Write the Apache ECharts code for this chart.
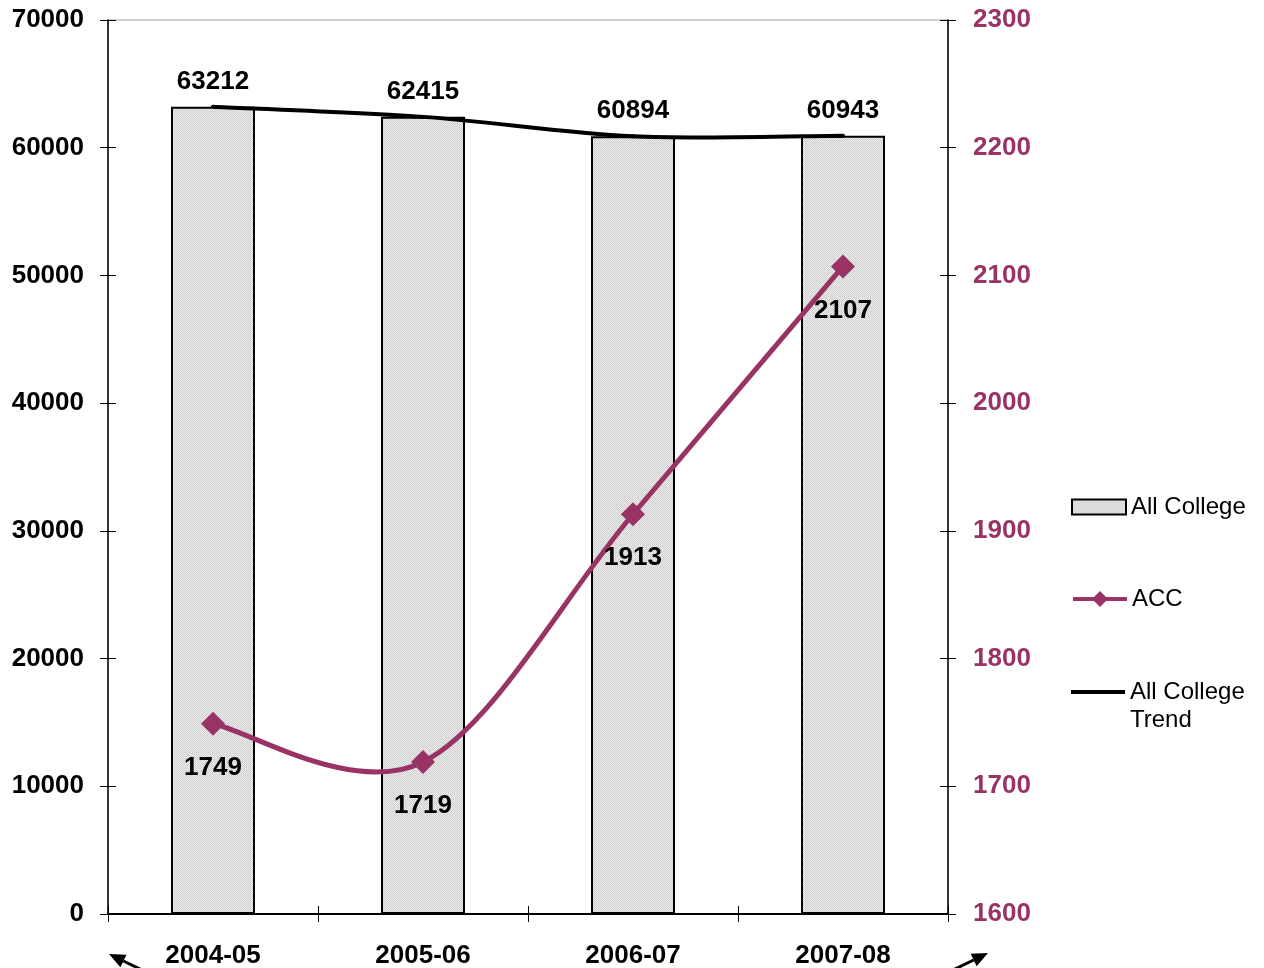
<!DOCTYPE html>
<html>
<head>
<meta charset="utf-8">
<script src="https://cdn.jsdelivr.net/npm/echarts@6/dist/echarts.min.js"></script>
<style>
  html, body { margin: 0; padding: 0; background: #fff; }
  #chart { width: 1264px; height: 968px; }
</style>
</head>
<body>
<div id="chart"></div>
<script>
// Enrolment by academic year: all colleges (left axis) vs ACC (right axis)
const years = ['2004-05', '2005-06', '2006-07', '2007-08'];
const allCollege = [63212, 62415, 60894, 60943];
const acc = [1749, 1719, 1913, 2107];
const leftTicks = { min: 0, max: 70000, interval: 10000 };
const rightTicks = { min: 1600, max: 2300, interval: 100 };

const FONT = '"Liberation Sans", Arial, sans-serif';
const PLUM = '#993366';

// Fine dotted grey fill for the bars
function dotPattern() {
  const c = document.createElement('canvas');
  c.width = 2; c.height = 2;
  const g = c.getContext('2d');
  g.fillStyle = '#ececec'; g.fillRect(0, 0, 2, 2);
  g.fillStyle = '#cfcfcf'; g.fillRect(0, 0, 1, 1); g.fillRect(1, 1, 1, 1);
  return { image: c, repeat: 'repeat' };
}
const barFill = dotPattern();

// Small arrow shape (tip and tail in pixels)
function arrow(tip, tail) {
  const dx = tail[0] - tip[0], dy = tail[1] - tip[1];
  const len = Math.hypot(dx, dy), ux = dx / len, uy = dy / len;
  const hl = 16, hw = 7;
  const bx = tip[0] + ux * hl, by = tip[1] + uy * hl;
  return [
    { type: 'line', shape: { x1: bx, y1: by, x2: tail[0], y2: tail[1] },
      style: { stroke: '#000', lineWidth: 3 } },
    { type: 'polygon', shape: { points: [tip, [bx - uy * hw, by + ux * hw], [bx + uy * hw, by - ux * hw]] },
      style: { fill: '#000' } }
  ];
}

// Smooth curve through the series points (Catmull-Rom style Bezier segments),
// positioned through the chart's own axes via api.coord.
function smoothCurve(values, color, width) {
  return function (params, api) {
    if (params.dataIndex !== 0) return null;
    const pts = values.map((v, i) => api.coord([i, v]));
    const n = pts.length;
    const children = [];
    for (let i = 0; i < n - 1; i++) {
      const p0 = pts[Math.max(i - 1, 0)], p1 = pts[i], p2 = pts[i + 1], p3 = pts[Math.min(i + 2, n - 1)];
      children.push({
        type: 'bezierCurve',
        shape: {
          x1: p1[0], y1: p1[1],
          cpx1: p1[0] + (p2[0] - p0[0]) / 6, cpy1: p1[1] + (p2[1] - p0[1]) / 6,
          cpx2: p2[0] - (p3[0] - p1[0]) / 6, cpy2: p2[1] - (p3[1] - p1[1]) / 6,
          x2: p2[0], y2: p2[1]
        },
        style: { stroke: color, lineWidth: width, fill: null, lineCap: 'round' }
      });
    }
    return { type: 'group', children: children };
  };
}

const chart = echarts.init(document.getElementById('chart'), null, { renderer: 'canvas' });

const tickLabel = { fontFamily: FONT, fontWeight: 'bold', fontSize: 26, formatter: v => String(v) };
const legendText = { fontFamily: FONT, fontSize: 24, color: '#000', lineHeight: 28 };

chart.setOption({
  backgroundColor: '#fff',
  animation: false,
  textStyle: { fontFamily: FONT },
  grid: {
    left: 108, right: 316, top: 20, bottom: 54,
    outerBoundsMode: 'none', containLabel: false,
    show: true, borderColor: '#a0a0a0', borderWidth: 1, backgroundColor: 'transparent'
  },
  legend: [
    {
      data: [{ name: 'All College', icon: 'rect' }], left: 1071, top: 493, padding: 0,
      itemWidth: 54, itemHeight: 15, textStyle: legendText
    },
    {
      data: ['ACC'], left: 1071, top: 585, padding: 0,
      itemWidth: 54, itemHeight: 20, textStyle: legendText,
      lineStyle: { opacity: 1, width: 4, color: PLUM }
    },
    {
      data: [{ name: 'All College Trend', icon: 'rect', itemStyle: { color: '#000' } }],
      left: 1071, top: 650, padding: 0,
      itemWidth: 54, itemHeight: 4,
      formatter: () => '\u00a0\nAll College\nTrend',
      textStyle: legendText
    }
  ],
  xAxis: [
    {
      type: 'category', data: years, position: 'bottom',
      axisLine: { lineStyle: { color: '#000', width: 2 } },
      axisTick: { show: true, length: 8, lineStyle: { color: '#000', width: 1 } },
      axisLabel: { color: '#000', margin: 29, fontFamily: FONT, fontWeight: 'bold', fontSize: 26 }
    },
    {
      type: 'category', data: years, position: 'bottom',
      axisLine: { show: false },
      axisTick: { show: true, inside: true, length: 8, lineStyle: { color: '#000', width: 1 } },
      axisLabel: { show: false }
    }
  ],
  yAxis: [
    {
      type: 'value', position: 'left', min: leftTicks.min, max: leftTicks.max, interval: leftTicks.interval,
      splitLine: { show: false },
      axisLine: { show: true, lineStyle: { color: '#000', width: 1.5 } },
      axisTick: { show: true, length: 8, lineStyle: { color: '#000' } },
      axisLabel: Object.assign({ color: '#000', margin: 24 }, tickLabel)
    },
    {
      type: 'value', position: 'right', min: rightTicks.min, max: rightTicks.max, interval: rightTicks.interval,
      splitLine: { show: false },
      axisLine: { show: true, lineStyle: { color: '#000', width: 1.5 } },
      axisTick: { show: true, length: 8, lineStyle: { color: '#000' } },
      axisLabel: Object.assign({ color: PLUM, margin: 25 }, tickLabel)
    },
    {
      type: 'value', position: 'left', min: leftTicks.min, max: leftTicks.max, interval: leftTicks.interval,
      splitLine: { show: false }, axisLine: { show: false }, axisLabel: { show: false },
      axisTick: { show: true, inside: true, length: 8, lineStyle: { color: '#000' } }
    },
    {
      type: 'value', position: 'right', min: rightTicks.min, max: rightTicks.max, interval: rightTicks.interval,
      splitLine: { show: false }, axisLine: { show: false }, axisLabel: { show: false },
      axisTick: { show: true, inside: true, length: 8, lineStyle: { color: '#000' } }
    }
  ],
  series: [
    {
      name: 'All College', type: 'bar', data: allCollege, barWidth: 84,
      xAxisIndex: 0, yAxisIndex: 0, z: 2,
      itemStyle: { color: barFill, borderColor: '#000', borderWidth: 2 },
      label: {
        show: true, position: 'top', distance: 12, color: '#000',
        fontFamily: FONT, fontWeight: 'bold', fontSize: 26
      }
    },
    {
      name: 'All College Trend', type: 'custom', data: allCollege.map((v, i) => [i, v]),
      xAxisIndex: 0, yAxisIndex: 0, z: 3,
      encode: { x: 0, y: 1 },
      itemStyle: { color: '#000' },
      renderItem: smoothCurve(allCollege, '#000', 4)
    },
    {
      name: 'ACC curve', type: 'custom', data: acc.map((v, i) => [i, v]),
      xAxisIndex: 0, yAxisIndex: 1, z: 4,
      encode: { x: 0, y: 1 },
      itemStyle: { color: PLUM },
      renderItem: smoothCurve(acc, PLUM, 5)
    },
    {
      name: 'ACC', type: 'line', data: acc,
      xAxisIndex: 0, yAxisIndex: 1, z: 5,
      symbol: 'diamond', symbolSize: 24,
      lineStyle: { color: PLUM, width: 5, opacity: 0 },
      itemStyle: { color: PLUM },
      label: {
        show: true, position: 'bottom', distance: 19, color: '#000',
        fontFamily: FONT, fontWeight: 'bold', fontSize: 26
      }
    }
  ],
  graphic: [].concat(
    arrow([109, 954], [142, 970]),
    arrow([988, 953], [953, 970])
  )
});
</script>
</body>
</html>
